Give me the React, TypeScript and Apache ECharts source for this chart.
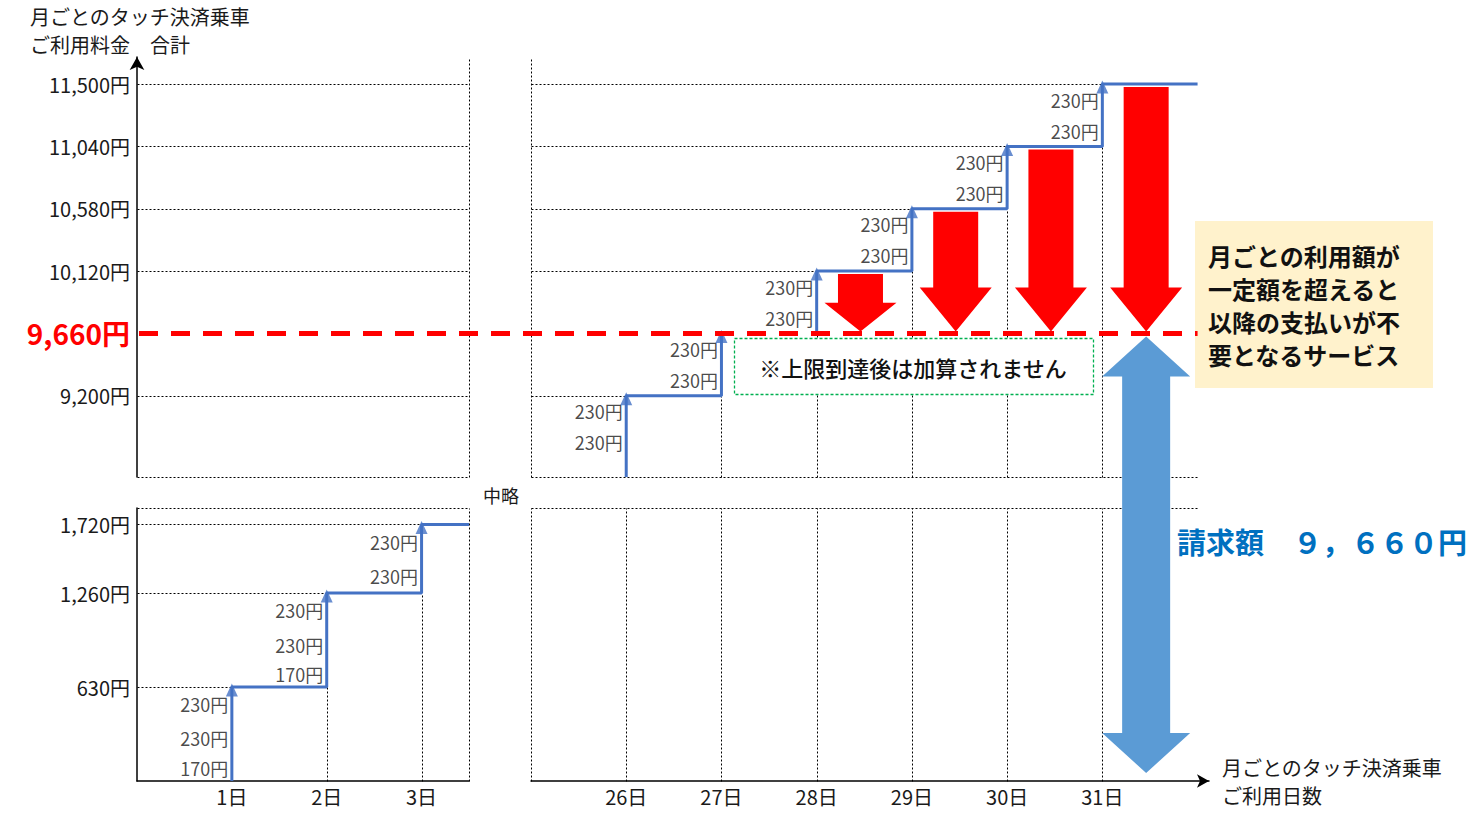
import React, { useEffect, useRef } from "react";
import * as echarts from "echarts";

// ---------- data ----------
const leftDays = [1, 2, 3];
const leftFares = [
  [170, 230, 230],
  [170, 230, 230],
  [230, 230],
];
const rightDays = [26, 27, 28, 29, 30, 31];
const rightFares = [
  [230, 230],
  [230, 230],
  [230, 230],
  [230, 230],
  [230, 230],
  [230, 230],
];
const rightStartTotal = 8740;
const capAmount = 9660;
const leftTickValues = [630, 1260, 1720];
const rightTickValues = [9200, 9660, 10120, 10580, 11040, 11500];
const cappedDays = [28, 29, 30, 31];
const yTitle = ["月ごとのタッチ決済乗車", "ご利用料金　合計"];
const xTitle = ["月ごとのタッチ決済乗車", "ご利用日数"];
const noteText = "※上限到達後は加算されません";
const serviceText = ["月ごとの利用額が", "一定額を超えると", "以降の支払いが不", "要となるサービス"];
const billText = "請求額　９，６６０円";
const omitText = "中略";

// axis ranges
const L_X = [0, 3.5];
const R_X = [25, 32.12];
const R_X_END = 32;
const TOP_Y = [8600, 11700];
const BOT_Y = [0, 1830];

const FONT = '"Noto Sans CJK JP", "Noto Sans", sans-serif';
const BLUE = "#4472C4";
const TEXT = "#1a1a1a";

type Step = { before: number; after: number; parts: { mid: number; v: number }[] };

function cumulate(start: number, fares: number[][]): Step[] {
  let t = start;
  return fares.map((f) => {
    const before = t;
    const parts = f.map((v) => {
      const mid = t + v / 2;
      t += v;
      return { mid, v };
    });
    return { before, after: t, parts };
  });
}

const leftSteps = cumulate(0, leftFares);
const rightSteps = cumulate(rightStartTotal, rightFares);

function stepPoints(days: number[], steps: Step[], xEnd: number, yFloor: number) {
  const pts: number[][] = [];
  steps.forEach((s, i) => {
    pts.push([days[i], i === 0 ? Math.min(s.before, yFloor) : s.before]);
    pts.push([days[i], s.after]);
    pts.push([i + 1 < days.length ? days[i + 1] : xEnd, s.after]);
  });
  return pts;
}

function labelPoints(days: number[], steps: Step[]) {
  const out: number[][] = [];
  steps.forEach((s, i) => s.parts.forEach((p) => out.push([days[i], p.mid, p.v])));
  return out;
}

const fmt = (v: number) => v.toLocaleString("en-US");

// dotted guide segments [x1,y1,x2,y2]
function guidesTopLeft() {
  const segs: number[][] = [];
  rightTickValues.filter((v) => v !== capAmount).forEach((v) => segs.push([L_X[0], v, L_X[1], v]));
  segs.push([L_X[1], TOP_Y[0], L_X[1], TOP_Y[1]]);
  segs.push([L_X[0], TOP_Y[0], L_X[1], TOP_Y[0]]);
  return segs;
}
function guidesBottomLeft() {
  const segs: number[][] = [];
  segs.push([L_X[0], BOT_Y[1], L_X[1], BOT_Y[1]]);
  segs.push([L_X[1], BOT_Y[0], L_X[1], BOT_Y[1]]);
  leftSteps.forEach((s, i) => {
    segs.push([L_X[0], s.after, leftDays[i], s.after]);
    if (i > 0) segs.push([leftDays[i], BOT_Y[0], leftDays[i], s.before]);
  });
  return segs;
}
function guidesTopRight() {
  const segs: number[][] = [];
  segs.push([R_X[0], TOP_Y[0], R_X[0], TOP_Y[1]]);
  segs.push([R_X[0], TOP_Y[0], R_X_END, TOP_Y[0]]);
  rightSteps.forEach((s, i) => {
    if (s.after !== capAmount) segs.push([R_X[0], s.after, rightDays[i], s.after]);
    if (i > 0) segs.push([rightDays[i], TOP_Y[0], rightDays[i], s.before]);
  });
  return segs;
}
function guidesBottomRight() {
  const segs: number[][] = [];
  segs.push([R_X[0], BOT_Y[1], R_X_END, BOT_Y[1]]);
  segs.push([R_X[0], BOT_Y[0], R_X[0], BOT_Y[1]]);
  rightDays.forEach((d) => segs.push([d, BOT_Y[0], d, BOT_Y[1]]));
  return segs;
}

const crisp = (v: number) => Math.round(v) + 0.5;

function guideSeries(idx: number, data: number[][]) {
  return {
    type: "custom",
    xAxisIndex: idx,
    yAxisIndex: idx,
    silent: true,
    z: 1,
    dimensions: ["x1", "y1", "x2", "y2"],
    encode: { x: ["x1", "x2"], y: ["y1", "y2"] },
    data,
    renderItem: (_p: any, api: any) => {
      const p1 = api.coord([api.value(0), api.value(1)]);
      const p2 = api.coord([api.value(2), api.value(3)]);
      return {
        type: "line",
        shape: { x1: crisp(p1[0]), y1: crisp(p1[1]), x2: crisp(p2[0]), y2: crisp(p2[1]) },
        style: { stroke: "#000", lineWidth: 1, lineDash: [2, 2] },
      };
    },
  };
}

function stepSeries(idx: number, data: number[][]) {
  return {
    type: "line",
    xAxisIndex: idx,
    yAxisIndex: idx,
    data,
    symbol: "none",
    silent: true,
    z: 3,
    lineStyle: { color: BLUE, width: 3 },
  };
}

function headSeries(idx: number, data: number[][]) {
  return {
    type: "scatter",
    xAxisIndex: idx,
    yAxisIndex: idx,
    data,
    symbol: "triangle",
    symbolSize: [12, 13],
    symbolOffset: [0, 3],
    silent: true,
    z: 4,
    itemStyle: { color: BLUE },
  };
}

function fareLabelSeries(idx: number, data: number[][]) {
  return {
    type: "scatter",
    xAxisIndex: idx,
    yAxisIndex: idx,
    data,
    symbolSize: 1,
    silent: true,
    z: 4,
    itemStyle: { color: "transparent" },
    label: {
      show: true,
      position: "left",
      distance: 3,
      fontSize: 18,
      fontFamily: FONT,
      color: TEXT,
      formatter: (p: any) => `${p.value[2]}円`,
    },
  };
}

function buildOption(): any {
  const yLabelFormatter = (v: number) =>
    v === capAmount ? `{cap|${fmt(v)}円}` : `${fmt(v)}円`;
  const yLabelBase = {
    fontSize: 20,
    fontFamily: FONT,
    color: TEXT,
    margin: 7,
    formatter: yLabelFormatter,
    rich: { cap: { color: "#FF0000", fontSize: 28, fontWeight: "bold", fontFamily: FONT } },
  };
  const xLabelBase = { fontSize: 20, fontFamily: FONT, color: TEXT, margin: 5, formatter: (v: number) => `${v}日` };
  const axisLineStyle = { color: "#000", width: 1.5 };
  return {
    animation: false,
    backgroundColor: "#fff",
    textStyle: { fontFamily: FONT },
    grid: [
      { left: 137, top: 57, width: 332, height: 420 },
      { left: 137, top: 508, width: 332, height: 273 },
      { left: 531, top: 57, width: 678, height: 420 },
      { left: 531, top: 508, width: 678, height: 273 },
    ],
    xAxis: [
      { type: "value", gridIndex: 0, min: L_X[0], max: L_X[1], show: false },
      {
        type: "value",
        gridIndex: 1,
        min: L_X[0],
        max: L_X[1],
        axisLine: { show: true, onZero: false, lineStyle: axisLineStyle },
        axisTick: { show: false },
        splitLine: { show: false },
        axisLabel: { ...xLabelBase, customValues: leftDays },
      },
      { type: "value", gridIndex: 2, min: R_X[0], max: R_X[1], show: false },
      {
        type: "value",
        gridIndex: 3,
        min: R_X[0],
        max: R_X[1],
        axisLine: {
          show: true,
          onZero: false,
          lineStyle: axisLineStyle,
          symbol: ["none", "arrow"],
          symbolSize: [10, 12],
        },
        axisTick: { show: false },
        splitLine: { show: false },
        axisLabel: { ...xLabelBase, customValues: rightDays },
      },
    ],
    yAxis: [
      {
        type: "value",
        gridIndex: 0,
        min: TOP_Y[0],
        max: TOP_Y[1],
        axisLine: {
          show: true,
          onZero: false,
          lineStyle: axisLineStyle,
          symbol: ["none", "arrow"],
          symbolSize: [11, 13],
        },
        axisTick: { show: false },
        splitLine: { show: false },
        axisLabel: { ...yLabelBase, customValues: rightTickValues },
      },
      {
        type: "value",
        gridIndex: 1,
        min: BOT_Y[0],
        max: BOT_Y[1],
        axisLine: { show: true, onZero: false, lineStyle: axisLineStyle },
        axisTick: { show: false },
        splitLine: { show: false },
        axisLabel: { ...yLabelBase, customValues: leftTickValues },
      },
      { type: "value", gridIndex: 2, min: TOP_Y[0], max: TOP_Y[1], show: false },
      { type: "value", gridIndex: 3, min: BOT_Y[0], max: BOT_Y[1], show: false },
    ],
    series: [
      guideSeries(0, guidesTopLeft()),
      guideSeries(1, guidesBottomLeft()),
      guideSeries(2, guidesTopRight()),
      guideSeries(3, guidesBottomRight()),
      stepSeries(1, stepPoints(leftDays, leftSteps, L_X[1], BOT_Y[0])),
      stepSeries(2, stepPoints(rightDays, rightSteps, R_X_END, TOP_Y[0])),
      headSeries(1, leftSteps.map((s, i) => [leftDays[i], s.after])),
      headSeries(2, rightSteps.map((s, i) => [rightDays[i], s.after])),
      fareLabelSeries(1, labelPoints(leftDays, leftSteps)),
      fareLabelSeries(2, labelPoints(rightDays, rightSteps)),
      {
        type: "custom",
        xAxisIndex: 2,
        yAxisIndex: 2,
        silent: true,
        z: 5,
        dimensions: ["x", "top", "tip"],
        encode: { x: "x", y: ["top", "tip"] },
        data: cappedDays.map((d) => {
          const s = rightSteps[rightDays.indexOf(d)];
          return [d + 0.46, s.after, capAmount];
        }),
        renderItem: (_p: any, api: any) => {
          const a = api.coord([api.value(0), api.value(1)]);
          const b = api.coord([api.value(0), api.value(2)]);
          const x = a[0];
          const top = a[1] + 3;
          const tip = b[1] - 2;
          const headLen = Math.min(44, (tip - top) * 0.5);
          const hs = tip - headLen;
          const sw = 22.5;
          const hw = 36;
          return {
            type: "polygon",
            shape: {
              points: [
                [x - sw, top],
                [x + sw, top],
                [x + sw, hs],
                [x + hw, hs],
                [x, tip],
                [x - hw, hs],
                [x - sw, hs],
              ],
            },
            style: { fill: "#FF0000" },
          };
        },
      },
    ],
  };
}

function buildGraphics(chart: any) {
  const capLeft = chart.convertToPixel({ gridIndex: 0 }, [L_X[0], capAmount]) as number[];
  const capRightX = (chart.convertToPixel({ gridIndex: 2 }, [R_X_END, capAmount]) as number[])[0];
  const capStartRight = chart.convertToPixel({ gridIndex: 2 }, [rightDays[1], capAmount]) as number[];
  const capEndRight = chart.convertToPixel({ gridIndex: 2 }, [rightDays[2], capAmount]) as number[];
  const lastCapped = cappedDays[cappedDays.length - 1];
  const bTop = chart.convertToPixel({ gridIndex: 2 }, [lastCapped + 0.46, capAmount]) as number[];
  const bBot = chart.convertToPixel({ gridIndex: 3 }, [lastCapped + 0.46, BOT_Y[0]]) as number[];
  const bx = bTop[0];
  const t = bTop[1] + 3;
  const b = bBot[1] - 8;
  const hl = 40;
  const hw = 44;
  const sw = 24;

  const els: any[] = [];
  els.push({
    type: "text",
    x: 30,
    y: 30.5,
    z: 20,
    style: {
      text: yTitle.join("\n"),
      fontSize: 20,
      lineHeight: 28,
      fontFamily: FONT,
      fill: TEXT,
      verticalAlign: "middle",
    },
  });
  els.push({
    type: "text",
    x: 1222,
    y: 781.5,
    z: 20,
    style: {
      text: xTitle.join("\n"),
      fontSize: 20,
      lineHeight: 28,
      fontFamily: FONT,
      fill: TEXT,
      verticalAlign: "middle",
    },
  });
  els.push({
    type: "text",
    x: 501,
    y: 495,
    z: 20,
    style: { text: omitText, fontSize: 18, fontFamily: FONT, fill: TEXT, align: "center", verticalAlign: "middle" },
  });
  // white underlay so the capped flat segment is hidden under the dashed cap line
  els.push({
    type: "line",
    z: 29,
    shape: { x1: capStartRight[0] + 6, y1: capStartRight[1], x2: capEndRight[0] - 2, y2: capEndRight[1] },
    style: { stroke: "#fff", lineWidth: 5 },
  });
  // cap dashed line
  els.push({
    type: "line",
    z: 30,
    shape: { x1: capLeft[0] + 2, y1: capLeft[1], x2: capRightX, y2: capLeft[1] },
    style: { stroke: "#FF0000", lineWidth: 5, lineDash: [19, 13] },
  });
  // blue double arrow
  els.push({
    type: "polygon",
    z: 25,
    shape: {
      points: [
        [bx, t],
        [bx + hw, t + hl],
        [bx + sw, t + hl],
        [bx + sw, b - hl],
        [bx + hw, b - hl],
        [bx, b],
        [bx - hw, b - hl],
        [bx - sw, b - hl],
        [bx - sw, t + hl],
        [bx - hw, t + hl],
      ],
    },
    style: { fill: "#5B9BD5" },
  });
  // note box
  els.push({
    type: "rect",
    z: 22,
    shape: { x: 734.5, y: 338.5, width: 359, height: 56 },
    style: { fill: "#fff", stroke: "#00B050", lineWidth: 1.3, lineDash: [3, 2] },
  });
  els.push({
    type: "text",
    z: 23,
    x: 913,
    y: 367,
    style: {
      text: noteText,
      fontSize: 22,
      fontWeight: 500,
      fontFamily: FONT,
      fill: "#111",
      align: "center",
      verticalAlign: "middle",
    },
  });
  // service box
  els.push({
    type: "rect",
    z: 22,
    shape: { x: 1195, y: 221, width: 238, height: 167 },
    style: { fill: "#FFF2CC" },
  });
  els.push({
    type: "text",
    z: 23,
    x: 1208,
    y: 304.5,
    style: {
      text: serviceText.join("\n"),
      fontSize: 24,
      lineHeight: 33,
      fontWeight: "bold",
      fontFamily: FONT,
      fill: "#111",
      verticalAlign: "middle",
    },
  });
  els.push({
    type: "text",
    z: 23,
    x: 1177,
    y: 541,
    style: {
      text: billText,
      fontSize: 29,
      fontWeight: "bold",
      fontFamily: FONT,
      fill: "#0070C0",
      verticalAlign: "middle",
    },
  });
  return els;
}

export default function App() {
  const ref = useRef<HTMLDivElement>(null);
  useEffect(() => {
    const el = ref.current as HTMLDivElement;
    const chart = echarts.init(el, null, { renderer: "svg" });
    chart.setOption(buildOption());
    chart.setOption({ graphic: { elements: buildGraphics(chart) } });
    return () => chart.dispose();
  }, []);
  return (
    <div
      ref={ref}
      style={{ position: "fixed", left: 0, top: 0, width: 1481, height: 817, background: "#fff" }}
    />
  );
}
